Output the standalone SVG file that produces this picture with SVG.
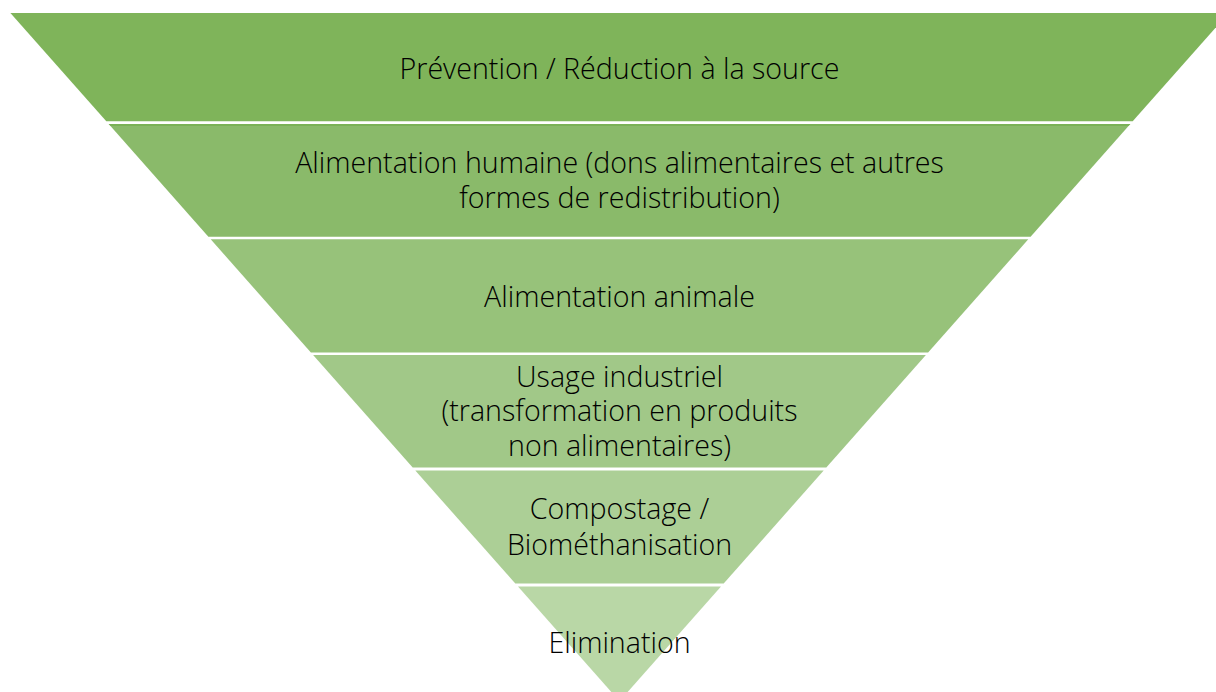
<svg xmlns="http://www.w3.org/2000/svg" width="1216" height="692" viewBox="0 0 1216 692">
  <style>
    .lbl { font-family: "Open Sans", "Lato", "Liberation Sans", sans-serif; font-weight: 300; font-size: 28.6px; fill: #000000; text-anchor: middle; }
  </style>
  <rect x="0" y="0" width="1216" height="692" fill="#ffffff"/>
  <g id="band1">
    <polygon points="10.4,13 1228.6,13 1132.7,121.3 106.3,121.3" fill="#7fb45a"/>
    <text class="lbl" x="619.5" y="79">Prévention / Réduction à la source</text>
  </g>
  <g id="band2">
    <polygon points="108.7,124 1130.3,124 1030.6,236.7 208.4,236.7" fill="#8aba6a"/>
    <polygon points="108.7,124 1130.3,124 1128.5,126 110.5,126" fill="#7ab156"/>
    <text class="lbl" x="619.5" y="172.5">Alimentation humaine (dons alimentaires et autres</text>
    <text class="lbl" x="619.5" y="207.5">formes de redistribution)</text>
  </g>
  <g id="band3">
    <polygon points="210.7,239.3 1028.3,239.3 928.1,352.5 310.9,352.5" fill="#97c27a"/>
    <text class="lbl" x="619.5" y="306.5">Alimentation animale</text>
  </g>
  <g id="band4">
    <polygon points="313.1,355 925.9,355 826.3,467.5 412.7,467.5" fill="#a1c888"/>
    <text class="lbl" x="619.5" y="386.5">Usage industriel</text>
    <text class="lbl" x="619.5" y="421.3">(transformation en produits</text>
    <text class="lbl" x="619.5" y="456">non alimentaires)</text>
  </g>
  <g id="band5">
    <polygon points="415.3,470.5 823.7,470.5 723.7,583.5 515.3,583.5" fill="#accf96"/>
    <text class="lbl" x="619.5" y="518.5">Compostage /</text>
    <text class="lbl" x="619.5" y="554.5">Biométhanisation</text>
  </g>
  <g id="band6">
    <polygon points="518,586.5 721,586.5 619.5,701.2" fill="#b9d7a6"/>
    <text class="lbl" x="619.5" y="652.7">Elimination</text>
  </g>
  <g id="connectors"></g>
</svg>
